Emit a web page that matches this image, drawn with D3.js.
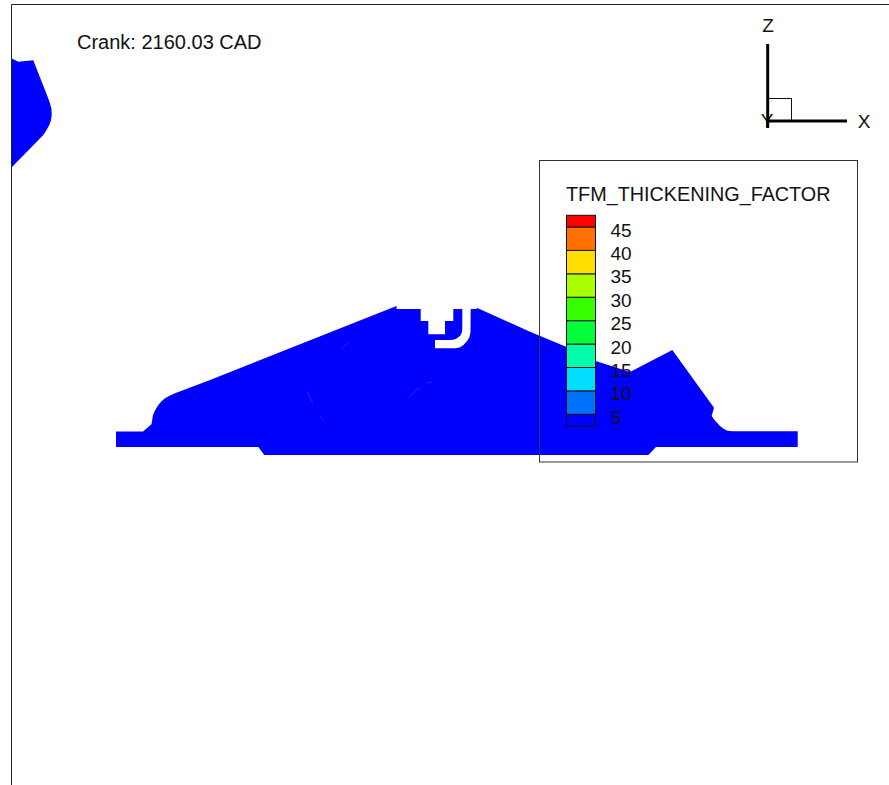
<!DOCTYPE html>
<html>
<head>
<meta charset="utf-8">
<script src="https://cdn.jsdelivr.net/npm/d3@7"></script>
<style>
    html, body { margin: 0; padding: 0; background: #fff; overflow: hidden; }
    svg { display: block; }
    text { font-family: "Liberation Sans", sans-serif; fill: #111; }
</style>
</head>
<body>
<svg id="plot"></svg>
<script>
let width = 889;
let height = 785;

// model coordinates, x to the right and z up, origin on the lower edge of the liner
let domainOutline = [
    [-341, 0], [-341, 15.5], [-314, 15.5], [-305.5, 22.7], [-304, 32], [-301.5, 37.5], [-298.7, 42], [-295.5, 45.7],
    [-292, 48.7], [-287, 51.5], [-282, 53.7], [-272, 57.6],
    [-247, 67], [-60.5, 141], [-60.5, 138], [-36.3, 138], [-36.3, 126], [-28.7, 126], [-28.7, 112.7], [-12, 112.7],
    [-12, 126], [-3.7, 126], [-3.7, 138], [5.3, 138], [5.3, 119], [5, 115], [3.5, 111.5], [0, 108.7], [-3.5, 107.3],
    [-8, 107], [-22, 107], [-22, 98.7], [-2, 98.7], [2.5, 99.5], [6.5, 102], [10, 105.7], [12.5, 110], [13.5, 115],
    [13.7, 138], [19.7, 138], [19.7, 139.3], [73, 115.3],
    [109.7, 100], [138.7, 86], [173, 75], [215.3, 97], [257, 39.3], [254.7, 31], [257.5, 27], [263, 21], [266.5, 18.2],
    [270.3, 16.3], [276, 15.7], [340.7, 15.7], [340.7, 0], [199, 0], [191.3, -8], [-192.7, -8], [-198.7, 0]
];
let pistonOutline = [
    [-445.7, 388.7], [-438.7, 385.3], [-423.7, 386.7], [-419.5, 376], [-415.3, 365.3], [-411, 354.5], [-407, 343.7],
    [-405.5, 338], [-405.3, 332], [-406, 327], [-407.7, 322], [-410.5, 317], [-413.7, 312], [-445.7, 279.3]
];
let streaks = [
    [[-47, 51], [-37.7, 59.3]],
    [[-149.7, 55.3], [-144.3, 43.7]],
    [[-115.3, 98.7], [-108.7, 104.3]],
    [[-137, 31], [-132, 25.3]],
    [[-30.3, 63.7], [-25, 65]]
];

let levels = [5, 10, 15, 20, 25, 30, 35, 40, 45];
let bandEdges = [2.45, 5, 10, 15, 20, 25, 30, 35, 40, 45, 47.5];
let bandColors = ["#0000ff", "#0070ff", "#00ddff", "#00ffaa", "#00ff38", "#38ff00", "#aaff00", "#ffdd00", "#ff7000", "#ff0000"];

let svg = d3.select("#plot")
    .attr("width", width)
    .attr("height", height);

let xScale = d3.scaleLinear().domain([-457, 432]).range([0, width]);
let zScale = d3.scaleLinear().domain([-338, 447]).range([height, 0]);
let line = d3.line().x(d => xScale(d[0])).y(d => zScale(d[1]));

// contour flood
svg.append("g")
    .selectAll("path")
    .data([domainOutline, pistonOutline])
    .join("path")
    .attr("d", d => line(d) + "Z")
    .attr("fill", "#0000ff");

svg.append("g")
    .selectAll("path")
    .data(streaks)
    .join("path")
    .attr("d", d => line(d))
    .attr("fill", "none")
    .attr("stroke", "#0a5cff")
    .attr("stroke-width", 0.7);

// frame, only left and top edges are in the picture
svg.append("path")
    .attr("d", "M11.5,785V4.5H889")
    .attr("fill", "none")
    .attr("stroke", "#222")
    .attr("stroke-width", 1);

svg.append("text")
    .attr("x", 77)
    .attr("y", 48.5)
    .attr("font-size", 20)
    .text("Crank: 2160.03 CAD");

drawTriad(svg);
drawLegend(svg);

function drawTriad(svg) {
    let g = svg.append("g");
    g.append("text").attr("x", 767).attr("y", 127).attr("text-anchor", "middle").attr("font-size", 19).text("Y");
    g.append("rect")
        .attr("x", 767.5).attr("y", 98.5)
        .attr("width", 24).attr("height", 23)
        .attr("fill", "none").attr("stroke", "#111").attr("stroke-width", 1);
    g.append("line")
        .attr("x1", 767.7).attr("x2", 767.7).attr("y1", 44).attr("y2", 128)
        .attr("stroke", "#000").attr("stroke-width", 3);
    g.append("line")
        .attr("x1", 767).attr("x2", 847).attr("y1", 121).attr("y2", 121)
        .attr("stroke", "#000").attr("stroke-width", 3);
    g.append("text").attr("x", 768).attr("y", 32).attr("text-anchor", "middle").attr("font-size", 19).text("Z");
    g.append("text").attr("x", 864).attr("y", 128).attr("text-anchor", "middle").attr("font-size", 19).text("X");
}

function drawLegend(svg) {
    let g = svg.append("g");
    g.append("rect")
        .attr("x", 539.5).attr("y", 160.5)
        .attr("width", 318).attr("height", 301.5)
        .attr("fill", "none").attr("stroke", "#333").attr("stroke-width", 1);
    g.append("text")
        .attr("x", 566)
        .attr("y", 201)
        .attr("font-size", 19.8)
        .text("TFM_THICKENING_FACTOR");

    let barScale = d3.scaleLinear().domain([5, 45]).range([414.3, 227]);
    g.append("g")
        .selectAll("rect")
        .data(bandColors)
        .join("rect")
        .attr("x", 566.5)
        .attr("width", 29)
        .attr("y", (d, i) => barScale(bandEdges[i + 1]))
        .attr("height", (d, i) => barScale(bandEdges[i]) - barScale(bandEdges[i + 1]))
        .attr("fill", d => d)
        .attr("stroke", "#111")
        .attr("stroke-width", 1);

    let axis = d3.axisRight(barScale)
        .tickValues(levels)
        .tickSize(0)
        .tickPadding(0)
        .tickFormat(d3.format("d"));
    let axisG = g.append("g")
        .attr("transform", "translate(610.5,3)")
        .call(axis);
    axisG.select(".domain").remove();
    axisG.selectAll("text")
        .attr("font-size", 19)
        .attr("font-family", "Liberation Sans")
        .attr("fill", "#111");
}
</script>
</body>
</html>
